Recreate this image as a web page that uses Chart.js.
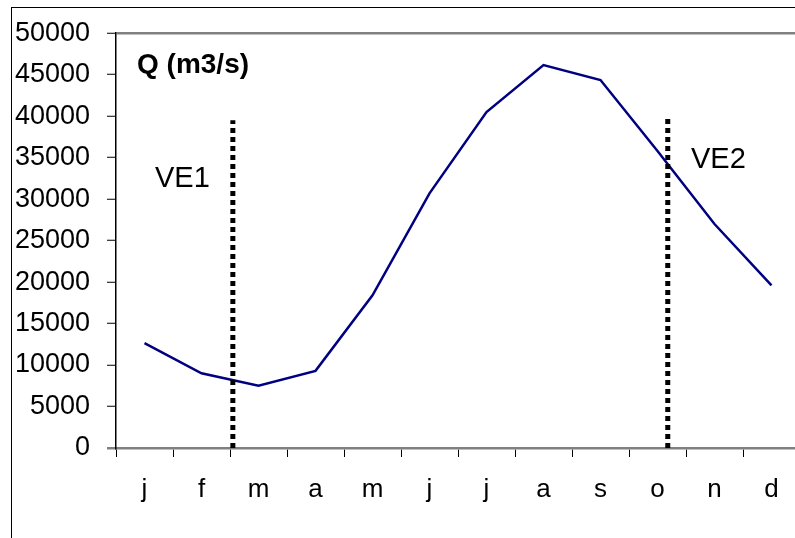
<!DOCTYPE html>
<html>
<head>
<meta charset="utf-8">
<script src="https://cdn.jsdelivr.net/npm/chart.js@4"></script>
<style>
  html, body { margin: 0; padding: 0; background: #fff; overflow: hidden; }
  #frame { position: absolute; left: 11px; top: 7px; width: 900px; height: 600px; border: 1px solid #000; }
  #wrap { position: absolute; left: 0; top: 0; width: 810px; height: 538px; }
</style>
</head>
<body>
<div id="frame"></div>
<div id="wrap"><canvas id="flowChart"></canvas></div>
<script>
// Monthly discharge with the two dotted markers (VE1, VE2).
const FONT = '"Liberation Sans", Arial, sans-serif';

const MONTHS = ['j', 'f', 'm', 'a', 'm', 'j', 'j', 'a', 's', 'o', 'n', 'd'];
const FLOW = [12650, 9000, 7500, 9300, 18400, 30700, 40500, 46150, 44350, 35800, 27000, 19600];
const Y_MIN = 0;
const Y_MAX = 50000;
const Y_STEP = 5000;

// marker positions in month-index units (0 = j) and their top values
const MARKER_NAMES = ['VE1', 'VE2'];
const MARKER_POS = [1.55, 9.18];
const MARKER_TOP = [39500, 40000];

const TITLE = 'Q (m3/s)';

const GREY = '#808080';

const notes = {
  id: 'notes',
  afterDatasetsDraw(chart) {
    const { ctx, chartArea } = chart;
    ctx.save();
    ctx.fillStyle = '#000';
    ctx.textBaseline = 'alphabetic';
    ctx.textAlign = 'left';
    ctx.font = `bold 28px ${FONT}`;
    ctx.fillText(TITLE, chartArea.left + 21, chartArea.top + 40);
    ctx.font = `29px ${FONT}`;
    ctx.fillText(MARKER_NAMES[0], 155, 187);
    ctx.fillText(MARKER_NAMES[1], 691, 168);
    ctx.restore();
  },
};

const markerSets = MARKER_POS.map((pos, i) => ({
  label: MARKER_NAMES[i],
  data: [{ x: pos, y: Y_MIN }, { x: pos, y: MARKER_TOP[i] }],
  xAxisID: 'x2',
  borderColor: '#000',
  borderWidth: 5,
  borderDash: [5, 4],
  borderCapStyle: 'butt',
  pointRadius: 0,
  fill: false,
  order: 0,
}));

new Chart(document.getElementById('flowChart'), {
  type: 'line',
  data: {
    labels: MONTHS,
    datasets: [
      ...markerSets,
      {
        label: TITLE,
        data: FLOW,
        borderColor: '#000080',
        borderWidth: 2.5,
        tension: 0,
        pointRadius: 0,
        fill: false,
        order: 1,
      },
    ],
  },
  options: {
    responsive: true,
    maintainAspectRatio: false,
    animation: false,
    layout: { padding: { top: 32, right: 10, bottom: 0, left: 0 } },
    plugins: { legend: { display: false }, tooltip: { enabled: false } },
    scales: {
      x: {
        type: 'category',
        offset: true,
        grid: { offset: true, drawOnChartArea: false, drawTicks: true, tickLength: 9, color: '#000', lineWidth: 1 },
        border: { color: GREY, width: 2.5 },
        ticks: { font: { family: FONT, size: 26 }, color: '#000', padding: 17, maxRotation: 0, autoSkip: false },
        afterFit: (s) => { s.height = 90; },
      },
      x2: { type: 'linear', display: false, min: -0.5, max: MONTHS.length - 0.5 },
      y: {
        min: Y_MIN,
        max: Y_MAX,
        grid: {
          color: (c) => (c.tick && c.tick.value === Y_MAX ? GREY : 'rgba(0,0,0,0)'),
          lineWidth: 2.5,
          tickLength: 9,
          tickColor: (c) => (c.tick && c.tick.value === Y_MIN ? GREY : '#000'),
          tickWidth: (c) => (c.tick && c.tick.value === Y_MIN ? 2.5 : 1),
        },
        border: { color: '#000', width: 1.5 },
        ticks: {
          stepSize: Y_STEP,
          font: { family: FONT, size: 27 },
          color: '#000',
          padding: 17,
          callback: (v) => `${v}`,
        },
        afterFit: (s) => { s.width = 116; },
      },
    },
  },
  plugins: [notes],
});
</script>
</body>
</html>
